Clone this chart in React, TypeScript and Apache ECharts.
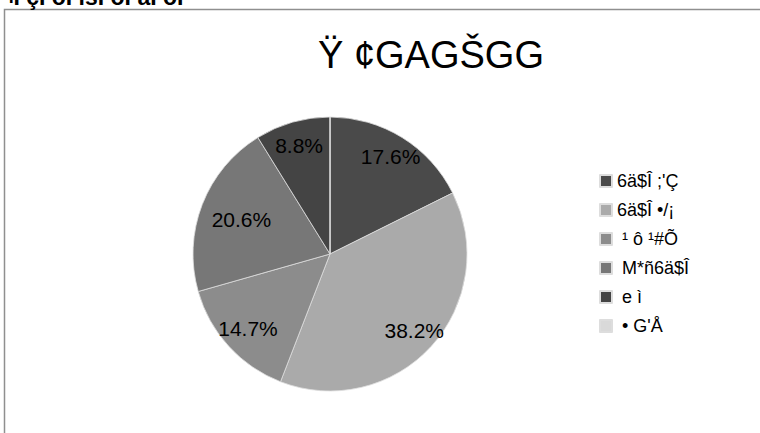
import React, { useEffect, useRef } from "react";
import * as echarts from "echarts";

const headerText = "¬Ì çÌ óÌ ìsÌ óÌ aÌ óÌ";
const titleText = "Ÿ ¢GAGŠGG";
const categories = ["6ä$Î ;'Ç", "6ä$Î •/¡", " ¹ ô ¹#Õ", " M*ñ6ä$Î", " e ì", " • G'Å"];
const values = [6, 13, 5, 7, 3, 0];
const colors = ["#4a4a4a", "#aaaaaa", "#8c8c8c", "#777777", "#444444", "#d9d9d9"];
// distance of each percentage label from the pie centre, in px
const labelRadius = [112, 111, 108, 92, 110, 100];

const PIE_R = 137;

export default function App() {
  const ref = useRef<HTMLDivElement>(null);
  useEffect(() => {
    if (!ref.current) return;
    const chart = echarts.init(ref.current, undefined, { renderer: "svg" });
    const font = "'Liberation Sans', Arial, sans-serif";
    const total = values.reduce((a, b) => a + b, 0);
    const midAngles: number[] = [];
    let cum = 0;
    values.forEach((v) => {
      midAngles.push(((cum + v / 2) / total) * 2 * Math.PI);
      cum += v;
    });
    chart.setOption({
      animation: false,
      backgroundColor: "#ffffff",
      textStyle: { fontFamily: font },
      graphic: [
        {
          type: "rect",
          shape: { x: 4.5, y: 9.5, width: 900, height: 600 },
          style: { fill: "none", stroke: "#8f8f8f", lineWidth: 1.5 },
          z: 0,
        },
        {
          type: "text",
          x: 0,
          y: -3,
          style: {
            text: headerText,
            font: "bold 23px " + font,
            fill: "#000",
            verticalAlign: "middle",
          },
        },
        {
          type: "text",
          x: 431,
          y: 55,
          style: {
            text: titleText,
            font: "38px " + font,
            fill: "#000",
            align: "center",
            verticalAlign: "middle",
          },
        },
      ],
      legend: {
        orient: "vertical",
        left: 594,
        top: 167,
        itemWidth: 12,
        itemHeight: 12,
        itemGap: 11,
        icon: "rect",
        data: categories,
        textStyle: { fontSize: 18, color: "#000", fontFamily: font },
      },
      series: [
        {
          type: "pie",
          center: [330, 254],
          radius: PIE_R,
          startAngle: 90,
          clockwise: true,
          minAngle: 0,
          stillShowZeroSum: true,
          itemStyle: { borderColor: "#dddddd", borderWidth: 0.8 },
          label: {
            show: true,
            position: "inside",
            fontSize: 21,
            color: "#000",
            fontFamily: font,
            formatter: (p: any) =>
              p.value > 0 ? ((p.value / total) * 100).toFixed(1) + "%" : "",
          },
          labelLayout: (p: any) => {
            const i = p.dataIndex;
            const a = midAngles[i];
            const d = labelRadius[i] - PIE_R / 2;
            return { dx: d * Math.sin(a), dy: -d * Math.cos(a) };
          },
          emphasis: { disabled: true },
          data: categories.map((name, i) => ({
            name,
            value: values[i],
            itemStyle: { color: colors[i] },
          })),
        },
      ],
    });
    return () => chart.dispose();
  }, []);
  return (
    <div
      ref={ref}
      style={{ position: "fixed", left: 0, top: 0, width: 760, height: 433 }}
    />
  );
}
